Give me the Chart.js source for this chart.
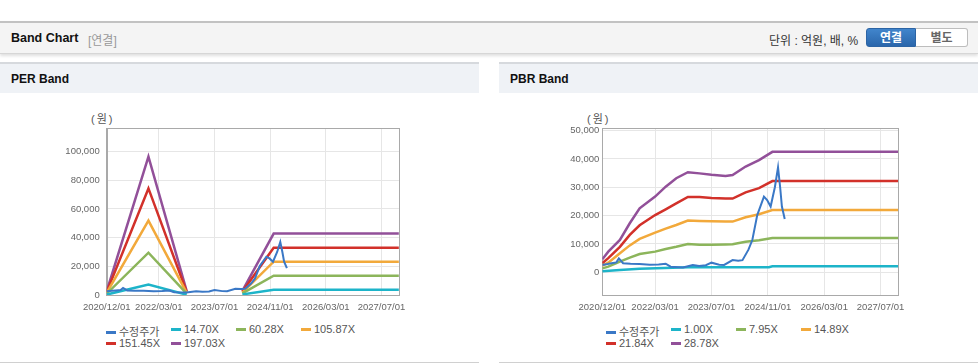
<!DOCTYPE html>
<html>
<head>
<meta charset="utf-8">
<script src="https://cdn.jsdelivr.net/npm/chart.js@4.4.0/dist/chart.umd.min.js"></script>
<style>
body { margin:0; width:978px; height:364px; position:relative; overflow:hidden; background:#fff;
       font-family:"Liberation Sans","Noto Sans CJK KR",sans-serif; color:#222; }
.topbar { position:absolute; left:0; top:21px; width:978px; height:30px; background:#f4f4f4;
          border-top:2px solid #c2c2c2; border-bottom:1px solid #d6d6d6; box-shadow:0 2px 3px rgba(0,0,0,.13); }
.title { position:absolute; left:11px; top:8px; font-size:12.5px; font-weight:bold; color:#111; }
.sub { position:absolute; left:88px; top:8px; font-size:12px; color:#999; }
.unit { position:absolute; left:769px; top:8px; font-size:12px; color:#333; }
.btn { position:absolute; top:5px; height:19px; width:50px; font-size:12px; font-weight:bold; text-align:center;
       line-height:19px; box-sizing:border-box; }
.on { left:866px; background:linear-gradient(#4185cc,#2a66ab); color:#fff; border-radius:3px 0 0 3px; border:1px solid #2c64a4; }
.off { left:916px; width:52px; background:#fff; color:#666; border:1px solid #bdbdbd; border-left:none; border-radius:0 3px 3px 0; }
.panel { position:absolute; top:62px; width:479px; height:300px; border-bottom:1px solid #d0d0d0; }
.phead { position:absolute; left:0; top:0; width:100%; height:29px; background:#eff2f6; border-top:2px solid #d6d9dd; }
.phead span { position:absolute; left:11px; top:8px; font-size:12px; font-weight:bold; color:#111; }
.won { position:absolute; top:110px; font-size:11px; color:#555; letter-spacing:2px; }
.legend { position:absolute; top:323px; width:300px; font-size:11px; color:#555; }
.legend div { position:absolute; white-space:nowrap; }
.legend i { display:inline-block; width:10px; height:3px; vertical-align:middle; margin-right:3px; position:relative; top:-1px; }
canvas { position:absolute; }
</style>
</head>
<body>
<div class="topbar">
  <span class="title">Band Chart</span><span class="sub">[연결]</span>
  <span class="unit">단위 : 억원, 배, %</span>
  <div class="btn on">연결</div><div class="btn off">별도</div>
</div>
<div class="panel" style="left:0"><div class="phead"><span>PER Band</span></div></div>
<div class="panel" style="left:499px"><div class="phead"><span>PBR Band</span></div></div>
<div class="won" style="left:91px">(원)</div>
<div class="won" style="left:587px">(원)</div>
<canvas id="perChart" style="left:40px;top:100px" width="373" height="215"></canvas>
<canvas id="pbrChart" style="left:540px;top:100px" width="372" height="215"></canvas>
<div class="legend" id="perLegend" style="left:106px"></div>
<div class="legend" id="pbrLegend" style="left:606px"></div>
<script>
// x axis is months since 2020/12
const xTicks = [0, 15, 31, 47, 63, 79];
const xTickLabels = ["2020/12/01", "2022/03/01", "2023/07/01", "2024/11/01", "2026/03/01", "2027/07/01"];
const perYTicks = [0, 20000, 40000, 60000, 80000, 100000];
const pbrYTicks = [0, 10000, 20000, 30000, 40000, 50000];

const seriesColors = ["#3a78c6", "#1db4c9", "#8cb55b", "#f2a93b", "#d2312a", "#925099"];
const perLabels = ["수정주가", "14.70X", "60.28X", "105.87X", "151.45X", "197.03X"];
const pbrLabels = ["수정주가", "1.00X", "7.95X", "14.89X", "21.84X", "28.78X"];

// 수정주가
const priceMonths = [0, 1.5, 2.6, 4, 4.7, 5.9, 8, 10.6, 13.5, 16, 18, 19.4, 22.9, 25.7, 27.5, 29.4, 31, 33.2, 34.6, 37, 38.6, 39.8, 41.5, 42.6, 44, 45.9, 46.8, 47.8, 49, 49.9, 50.5, 51, 51.8];
const priceValues = [2600, 2900, 3200, 3500, 4900, 3200, 3000, 2900, 2700, 2800, 3050, 2000, 1700, 2600, 2200, 2500, 3400, 2700, 2600, 4300, 4100, 4300, 8000, 11400, 20200, 26700, 25500, 23200, 30000, 37000, 30000, 23200, 18800];

// PER band
const perMonths = [0, 12, 23, 31, 39, 48, 84];
const per1470 = [300, 7300, 200, null, 400, 3700, 3700];
const per6028 = [900, 29500, 1000, null, 1100, 13400, 13400];
const per10587 = [1500, 51900, 1500, null, 1700, 23200, 23200];
const per15145 = [2000, 74300, 2100, null, 2300, 33000, 33000];
const per19703 = [2600, 96500, 2700, null, 2900, 42800, 42800];

// PBR band
const pbrMonths1 = [0, 5, 10.6, 20, 24.3, 47.3, 48.3, 84];
const pbr100 = [350, 800, 1300, 1650, 1760, 1760, 2100, 2100];
const pbrMonths = [0, 1.7, 5, 7.8, 10.6, 15, 18, 21, 24.3, 27.6, 31, 35, 37, 40.7, 44.5, 48.3, 84];
const pbr795 = [1400, 2000, 3750, 5200, 6450, 7300, 8200, 9000, 10000, 9750, 9700, 9800, 9900, 10800, 11300, 12100, 12100];
const pbr1489 = [2350, 3400, 6700, 9500, 11800, 14000, 15400, 16700, 18250, 18100, 18000, 17900, 17900, 19400, 20500, 22000, 22000];
const pbr2184 = [3200, 5000, 9000, 13200, 16600, 20200, 22200, 24300, 26600, 26600, 26200, 26000, 26000, 28200, 29700, 32200, 32200];
const pbr2878 = [4600, 7300, 11400, 17300, 22600, 26700, 30200, 33200, 35300, 34900, 34400, 34000, 34300, 37300, 39600, 42500, 42500];

const pts = (xs, ys) => xs.map((x, i) => ({ x: x, y: ys[i] }));

const framePlugin = {
    id: "frame",
    beforeDatasetsDraw(chart) {
        const a = chart.chartArea;
        const ctx = chart.ctx;
        ctx.save();
        ctx.strokeStyle = "#a9a9a9";
        ctx.lineWidth = 1;
        ctx.strokeRect(Math.round(a.left) + 0.5, Math.round(a.top) + 0.5, Math.round(a.right - a.left), Math.round(a.bottom - a.top));
        ctx.restore();
    },
};

const makeChart = (id, series, labels, yTicks, yMin, yMax, yWidth, yPad) => {
    return new Chart(document.getElementById(id), {
        type: "line",
        data: {
            datasets: series.map((d, i) => ({
                label: labels[i],
                data: d,
                borderColor: seriesColors[i],
                backgroundColor: seriesColors[i],
                borderWidth: i === 0 ? 2 : 2.5,
                pointRadius: 0,
                tension: 0,
                fill: false,
                spanGaps: false,
            })),
        },
        options: {
            responsive: false,
            animation: false,
            layout: { padding: { top: 28.3, right: 12, left: 0, bottom: 0 } },
            plugins: { legend: { display: false }, tooltip: { enabled: false } },
            scales: {
                x: {
                    type: "linear",
                    min: 0,
                    max: 84,
                    afterBuildTicks: (s) => { s.ticks = xTicks.map((v) => ({ value: v })); },
                    afterFit: (s) => { s.height = 20; },
                    ticks: {
                        autoSkip: false,
                        maxRotation: 0,
                        padding: 7,
                        color: "#666",
                        font: { size: 9.5, family: "Liberation Sans" },
                        callback: (v) => xTickLabels[xTicks.indexOf(v)],
                    },
                    grid: { color: "#e6e6e6", drawTicks: false },
                    border: { color: "#a9a9a9" },
                },
                y: {
                    min: yMin,
                    max: yMax,
                    afterBuildTicks: (s) => { s.ticks = yTicks.map((v) => ({ value: v })); },
                    afterFit: (s) => { s.width = yWidth; },
                    ticks: {
                        padding: yPad,
                        color: "#666",
                        font: { size: 9.5, family: "Liberation Sans" },
                        callback: (v) => v.toLocaleString("en-US"),
                    },
                    grid: { color: "#e6e6e6", drawTicks: false },
                    border: { color: "#a9a9a9" },
                },
            },
        },
        plugins: [framePlugin],
    });
};

makeChart("perChart", [
    pts(priceMonths, priceValues),
    pts(perMonths, per1470),
    pts(perMonths, per6028),
    pts(perMonths, per10587),
    pts(perMonths, per15145),
    pts(perMonths, per19703),
], perLabels, perYTicks, 0, 116200, 66.7, 7);

makeChart("pbrChart", [
    pts(priceMonths, priceValues),
    pts(pbrMonths1, pbr100),
    pts(pbrMonths, pbr795),
    pts(pbrMonths, pbr1489),
    pts(pbrMonths, pbr2184),
    pts(pbrMonths, pbr2878),
], pbrLabels, pbrYTicks, -8000, 50800, 62.3, 3);

const buildLegend = (id, labels) => {
    const box = document.getElementById(id);
    labels.forEach((l, i) => {
        const d = document.createElement("div");
        d.style.left = (i % 4) * 65 + "px";
        d.style.top = Math.floor(i / 4) * 14 + "px";
        d.innerHTML = '<i style="background:' + seriesColors[i] + '"></i>' + l;
        box.appendChild(d);
    });
};
buildLegend("perLegend", perLabels);
buildLegend("pbrLegend", pbrLabels);
</script>
</body>
</html>
